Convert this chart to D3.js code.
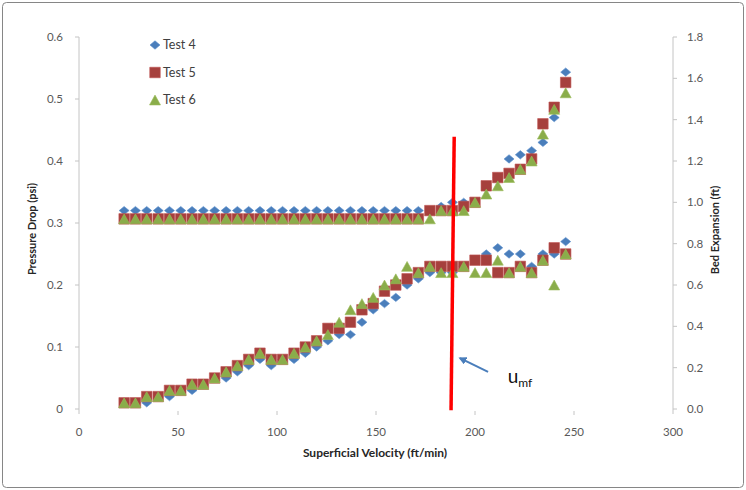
<!DOCTYPE html>
<html>
<head>
<meta charset="utf-8">
<script src="https://cdn.jsdelivr.net/npm/d3@7"></script>
<style>
  body { margin: 0; background: #fff; }
  svg text { font-family: Lato, "Open Sans", sans-serif; }
</style>
</head>
<body>
<svg id="chart" width="746" height="490"></svg>
<script>
// superficial velocity (ft/min), shared by the three tests
var velocity = [22.8, 28.5, 34.2, 40.0, 45.7, 51.4, 57.1, 62.8, 68.5, 74.3,
                80.0, 85.7, 91.4, 97.1, 102.8, 108.6, 114.3, 120.0, 125.7, 131.4,
                137.1, 142.9, 148.6, 154.3, 160.0, 165.7, 171.4, 177.2, 182.9, 188.6,
                194.3, 200.0, 205.7, 211.5, 217.2, 222.9, 228.6, 234.3, 240.0, 245.8]

// pressure drop (psi) - left axis
var dpTest4 = [0.01, 0.01, 0.01, 0.02, 0.02, 0.03, 0.03, 0.04, 0.05, 0.05,
               0.06, 0.07, 0.08, 0.07, 0.08, 0.08, 0.09, 0.10, 0.11, 0.12,
               0.12, 0.14, 0.16, 0.17, 0.18, 0.20, 0.21, 0.22, 0.22, 0.22,
               0.23, 0.24, 0.25, 0.26, 0.25, 0.25, 0.23, 0.25, 0.25, 0.27]
var dpTest5 = [0.01, 0.01, 0.02, 0.02, 0.03, 0.03, 0.04, 0.04, 0.05, 0.06,
               0.07, 0.08, 0.09, 0.08, 0.08, 0.09, 0.10, 0.11, 0.13, 0.13,
               0.14, 0.16, 0.17, 0.19, 0.20, 0.21, 0.22, 0.23, 0.23, 0.23,
               0.23, 0.24, 0.24, 0.22, 0.22, 0.23, 0.22, 0.24, 0.26, 0.25]
var dpTest6 = [0.01, 0.01, 0.02, 0.02, 0.03, 0.03, 0.04, 0.04, 0.05, 0.06,
               0.07, 0.08, 0.09, 0.08, 0.08, 0.09, 0.10, 0.11, 0.12, 0.14,
               0.16, 0.17, 0.18, 0.20, 0.21, 0.23, 0.22, 0.23, 0.22, 0.22,
               0.23, 0.22, 0.22, 0.24, 0.22, 0.23, 0.22, 0.24, 0.20, 0.25]

// bed expansion (ft) - right axis
var bedTest4 = [0.96, 0.96, 0.96, 0.96, 0.96, 0.96, 0.96, 0.96, 0.96, 0.96,
                0.96, 0.96, 0.96, 0.96, 0.96, 0.96, 0.96, 0.96, 0.96, 0.96,
                0.96, 0.96, 0.96, 0.96, 0.96, 0.96, 0.96, 0.96, 0.98, 1.00,
                1.00, 1.00, 1.07, 1.12, 1.21, 1.23, 1.25, 1.29, 1.41, 1.63]
var bedTest5 = [0.92, 0.92, 0.92, 0.92, 0.92, 0.92, 0.92, 0.92, 0.92, 0.92,
                0.92, 0.92, 0.92, 0.92, 0.92, 0.92, 0.92, 0.92, 0.92, 0.92,
                0.92, 0.92, 0.92, 0.92, 0.92, 0.92, 0.92, 0.96, 0.96, 0.96,
                0.98, 1.00, 1.08, 1.12, 1.14, 1.16, 1.21, 1.38, 1.46, 1.58]
var bedTest6 = [0.92, 0.92, 0.92, 0.92, 0.92, 0.92, 0.92, 0.92, 0.92, 0.92,
                0.92, 0.92, 0.92, 0.92, 0.92, 0.92, 0.92, 0.92, 0.92, 0.92,
                0.92, 0.92, 0.92, 0.92, 0.92, 0.92, 0.92, 0.92, 0.96, 0.96,
                0.96, 1.00, 1.04, 1.08, 1.12, 1.16, 1.20, 1.33, 1.45, 1.53]

var seriesNames = ["Test 4", "Test 5", "Test 6"]
var xTicks = [0, 50, 100, 150, 200, 250, 300]
var yLeftTicks = [0, 0.1, 0.2, 0.3, 0.4, 0.5, 0.6]
var yRightTicks = [0, 0.2, 0.4, 0.6, 0.8, 1.0, 1.2, 1.4, 1.6, 1.8]

// minimum fluidization marker, in data units
var umfLine = [[189.5, 0.439], [187.9, -0.002]]
var umfArrow = [[206.6, 0.060], [192.4, 0.082]]
var umfLabel = [216.5, 0.042]

var svg = d3.select("#chart")
var plotLeft = 79, plotRight = 673, plotTop = 37, plotBottom = 409

var x = d3.scaleLinear().domain([0, 300]).range([plotLeft, plotRight])
var yL = d3.scaleLinear().domain([0, 0.6]).range([plotBottom, plotTop])
var yR = d3.scaleLinear().domain([0, 1.8]).range([plotBottom, plotTop])

// outer frame
svg.append("rect").attr("x", 2.5).attr("y", 2.5).attr("width", 741).attr("height", 485)
    .attr("rx", 4).style("fill", "#fff").style("stroke", "#868686").style("stroke-width", 1)

// axes
var axisColor = "#c4c4c4", labelColor = "#595959"
var ax = svg.append("g")
ax.append("line").attr("x1", plotLeft).attr("x2", plotLeft).attr("y1", plotTop).attr("y2", plotBottom + 5)
    .style("stroke", axisColor)
ax.append("line").attr("x1", plotRight).attr("x2", plotRight).attr("y1", plotTop).attr("y2", plotBottom + 5)
    .style("stroke", axisColor)

ax.selectAll(".ltick").data(yLeftTicks).enter().append("line")
    .attr("x1", plotLeft - 4).attr("x2", plotLeft).attr("y1", d => yL(d)).attr("y2", d => yL(d))
    .style("stroke", axisColor)
ax.selectAll(".llab").data(yLeftTicks).enter().append("text")
    .attr("x", plotLeft - 16).attr("y", d => yL(d)).attr("dy", "0.35em")
    .attr("text-anchor", "end").style("font-size", "11.5px").style("fill", labelColor)
    .text(d => d == 0 ? "0" : d3.format(".1f")(d))

ax.selectAll(".rtick").data(yRightTicks).enter().append("line")
    .attr("x1", plotRight).attr("x2", plotRight + 4).attr("y1", d => yR(d)).attr("y2", d => yR(d))
    .style("stroke", axisColor)
ax.selectAll(".rlab").data(yRightTicks).enter().append("text")
    .attr("x", plotRight + 14).attr("y", d => yR(d)).attr("dy", "0.35em")
    .attr("text-anchor", "start").style("font-size", "11.5px").style("fill", labelColor)
    .text(d => d3.format(".1f")(d))

ax.selectAll(".xtick").data(xTicks.slice(1, -1)).enter().append("line")
    .attr("x1", d => x(d)).attr("x2", d => x(d)).attr("y1", plotBottom + 2).attr("y2", plotBottom + 6)
    .style("stroke", axisColor)
ax.selectAll(".xlab").data(xTicks).enter().append("text")
    .attr("x", d => x(d)).attr("y", plotBottom + 27)
    .attr("text-anchor", "middle").style("font-size", "11.5px").style("fill", labelColor)
    .text(d => d)

// axis titles
svg.append("text").attr("x", (plotLeft + plotRight) / 2 - 1).attr("y", 457)
    .attr("text-anchor", "middle").style("font-size", "12px").style("font-weight", "bold")
    .style("fill", "#262626").text("Superficial Velocity (ft/min)")
svg.append("text").attr("transform", "translate(36," + 229 + ") rotate(-90)")
    .attr("text-anchor", "middle").style("font-size", "11px").style("font-weight", "bold")
    .style("fill", "#262626").text("Pressure Drop (psi)")
svg.append("text").attr("transform", "translate(719," + 230 + ") rotate(-90)")
    .attr("text-anchor", "middle").style("font-size", "11px").style("font-weight", "bold")
    .style("fill", "#262626").text("Bed Expansion (ft)")

// marker shapes
var styles = [
    {fill: "#4a7ebb", stroke: "#5b8fcc", path: (w) => "M0," + (-w * 0.42) + "L" + (w / 2) + ",0L0," + (w * 0.42) + "L" + (-w / 2) + ",0Z", size: 10},
    {fill: "#a6403d", stroke: "#bf5250", path: (w) => "M" + (-w / 2) + "," + (-w / 2) + "h" + w + "v" + w + "h" + (-w) + "Z", size: 10.5},
    {fill: "#8aad4a", stroke: "#9bbb59", path: (w) => "M0," + (-w * 0.45) + "L" + (w / 2) + "," + (w * 0.45) + "L" + (-w / 2) + "," + (w * 0.45) + "Z", size: 11}
]

var pressure = [dpTest4, dpTest5, dpTest6]
var bed = [bedTest4, bedTest5, bedTest6]

for (var s = 0; s < 3; s++) {
    var st = styles[s]
    var g = svg.append("g").attr("class", "series-" + s)
    g.selectAll(".dp").data(pressure[s]).enter().append("path")
        .attr("transform", (d, i) => "translate(" + x(velocity[i]) + "," + yL(d) + ")")
        .attr("d", st.path(st.size))
        .style("fill", st.fill).style("stroke", st.stroke).style("stroke-width", 0.6)
    g.selectAll(".be").data(bed[s]).enter().append("path")
        .attr("transform", (d, i) => "translate(" + x(velocity[i]) + "," + yR(d) + ")")
        .attr("d", st.path(st.size))
        .style("fill", st.fill).style("stroke", st.stroke).style("stroke-width", 0.6)
}

// legend
var legend = svg.append("g")
seriesNames.forEach(function(name, i) {
    var ly = 45 + i * 27.5
    legend.append("path").attr("transform", "translate(155," + ly + ")")
        .attr("d", styles[i].path(styles[i].size))
        .style("fill", styles[i].fill).style("stroke", styles[i].stroke).style("stroke-width", 0.6)
    legend.append("text").attr("x", 163).attr("y", ly).attr("dy", "0.35em")
        .style("font-size", "12.5px").style("fill", "#404040").text(name)
})

// u_mf line, arrow and label
svg.append("line")
    .attr("x1", x(umfLine[0][0])).attr("y1", yL(umfLine[0][1]))
    .attr("x2", x(umfLine[1][0])).attr("y2", yL(umfLine[1][1]))
    .style("stroke", "#ff0000").style("stroke-width", 3.5)

var defs = svg.append("defs")
defs.append("marker").attr("id", "arrowhead").attr("viewBox", "0 0 10 10")
    .attr("refX", 8).attr("refY", 5).attr("markerWidth", 4).attr("markerHeight", 4)
    .attr("orient", "auto")
    .append("path").attr("d", "M0,0L10,5L0,10Z").style("fill", "#4a7ebb")
svg.append("line")
    .attr("x1", x(umfArrow[0][0])).attr("y1", yL(umfArrow[0][1]))
    .attr("x2", x(umfArrow[1][0])).attr("y2", yL(umfArrow[1][1]))
    .style("stroke", "#4a7ebb").style("stroke-width", 2).attr("marker-end", "url(#arrowhead)")

var lbl = svg.append("text").attr("x", x(umfLabel[0])).attr("y", yL(umfLabel[1]))
    .style("fill", "#111")
lbl.append("tspan").style("font-size", "19px").text("u")
lbl.append("tspan").attr("dy", 4).style("font-size", "12px").text("mf")
</script>
</body>
</html>
